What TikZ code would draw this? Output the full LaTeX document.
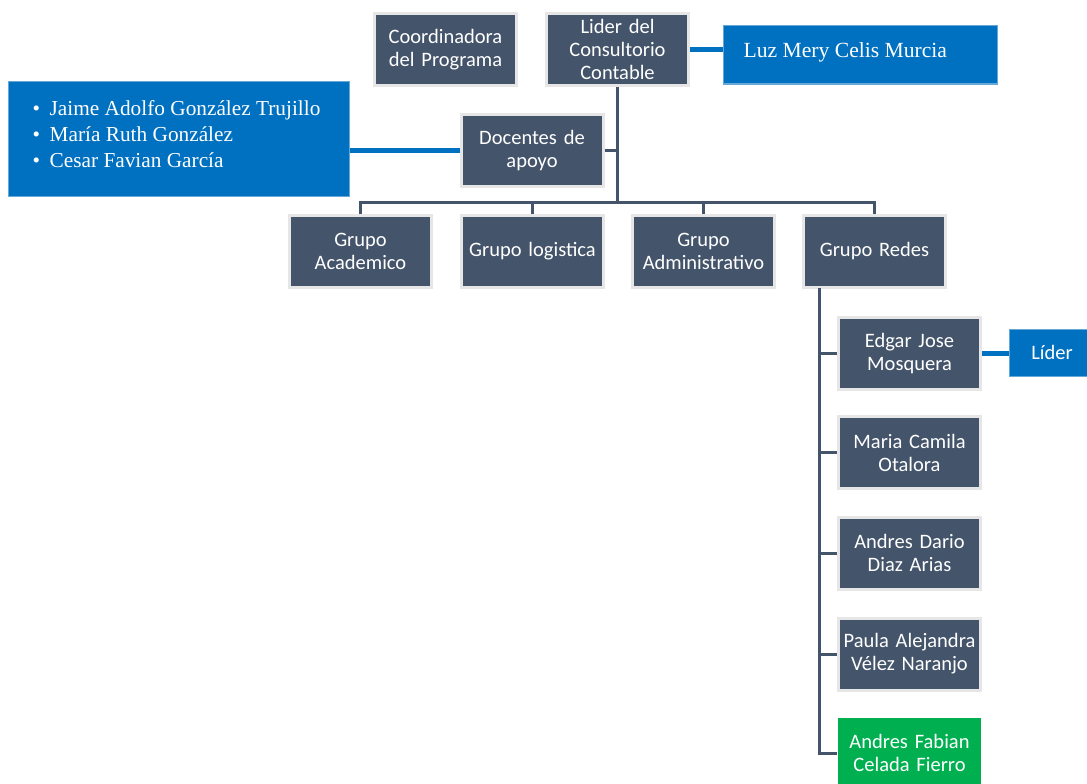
\documentclass[tikz,border=0pt]{standalone}
\usepackage{fontspec}
\setmainfont{Carlito}
\newfontfamily\serifnames{Liberation Serif}
\definecolor{boxdark}{HTML}{44546A}
\definecolor{boxblue}{HTML}{0070C0}
\definecolor{boxgreen}{HTML}{00B050}
\definecolor{boxrim}{HTML}{E6E6E6}
\begin{document}
\begin{tikzpicture}[x=1pt,y=-1pt,
  darkbox/.style={draw=boxrim, line width=3pt, fill=boxdark, text=white,
    minimum width=142pt, minimum height=72pt, inner sep=0pt, align=center,
    text width=141pt, font=\fontsize{20.5}{23}\selectfont},
  greenbox/.style={darkbox, fill=boxgreen, draw=none},
  bluebox/.style={fill=boxblue, draw=boxblue!60, line width=1pt, text=white, inner sep=0pt},
  bluetext/.style={text=white, inner sep=0pt, anchor=west, align=left},
  darkline/.style={draw=boxdark, line width=3pt},
  blueline/.style={draw=boxblue, line width=4.5pt}]
\useasboundingbox (0,0) rectangle (1087,784);
\fill[white] (0,0) rectangle (1087,784);

% top row
\node[darkbox] (coord) at (445.5,49.5) {Coordinadora\\del Programa};
\node[darkbox] (lider) at (617.5,49.5) {Lider del\\Consultorio\\Contable};
\node[bluebox, minimum width=274pt, minimum height=58pt,
      label={[bluetext, xshift=21pt, yshift=2.5pt,
              font=\serifnames\fontsize{21.6}{24}\selectfont]west:Luz Mery Celis Murcia}]
      (luz) at (860,55) {};

% docentes
\node[darkbox] (docentes) at (532,150.5) {Docentes de\\apoyo};
\node[bluebox, minimum width=341pt, minimum height=114pt,
      label={[bluetext, xshift=25pt, yshift=5pt,
              font=\serifnames\fontsize{21.3}{26}\selectfont]west:%
   \makebox[17pt][l]{\textbullet}Jaime Adolfo González Trujillo\\
   \makebox[17pt][l]{\textbullet}María Ruth González\\
   \makebox[17pt][l]{\textbullet}Cesar Favian García}]
      (lista) at (178.5,139) {};

% groups
\node[darkbox] (acad) at (360.5,251.5) {Grupo\\Academico};
\node[darkbox] (logi) at (532.5,251.5) {Grupo logistica};
\node[darkbox] (admin) at (703.5,251.5) {Grupo\\Administrativo};
\node[darkbox] (redes) at (874.5,251.5) {Grupo Redes};

% members of Grupo Redes
\node[darkbox] (edgar) at (909.5,353.5) {Edgar Jose\\Mosquera};
\node[darkbox] (camila) at (909.5,452.5) {Maria Camila\\Otalora};
\node[darkbox] (dario) at (909.5,553) {Andres Dario\\Diaz Arias};
\node[darkbox] (paula) at (909.5,654) {Paula Alejandra\\Vélez Naranjo};
\node[greenbox, minimum width=143pt, minimum height=70pt] (fabian) at (909.5,753) {Andres Fabian\\Celada Fierro};
\node[bluebox, minimum width=86pt, minimum height=47pt,
      font=\fontsize{20.5}{23}\selectfont] (lidertag) at (1052,352.5) {Líder};

% connectors
\coordinate (bar) at (617.5,202);
\coordinate (redesline) at (819,288);
\draw[blueline] (lider.east) -- (lider.east -| luz.west);
\draw[blueline] (lista.east |- docentes.west) -- (docentes.west);
\draw[blueline] (edgar.east) -- (edgar.east -| lidertag.west);
\draw[darkline] (lider.south) -- (bar);
\draw[darkline] (docentes.east) -- (docentes.east -| bar);
\draw[darkline] (acad.north) |- (bar) -| (redes.north);
\draw[darkline] (logi.north) -- (logi.north |- bar);
\draw[darkline] (admin.north) -- (admin.north |- bar);
\draw[darkline] (redesline) |- (fabian.west);
\draw[darkline] (edgar.west) -- (edgar.west -| redesline);
\draw[darkline] (camila.west) -- (camila.west -| redesline);
\draw[darkline] (dario.west) -- (dario.west -| redesline);
\draw[darkline] (paula.west) -- (paula.west -| redesline);
\end{tikzpicture}
\end{document}
